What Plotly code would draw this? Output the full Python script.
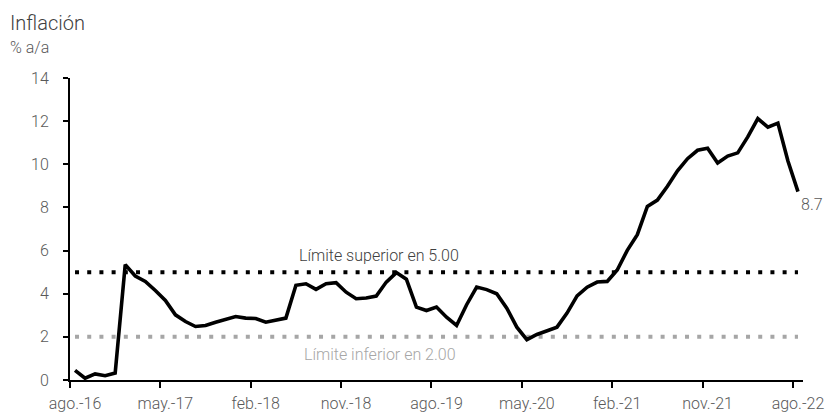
import plotly.graph_objects as go

# ---- data ----
month_abbr = ["ene.", "feb.", "mar.", "abr.", "may.", "jun.", "jul.", "ago.", "sep.", "oct.", "nov.", "dic."]
months = []
for k in range(73):
    m = (7 + k) % 12
    yr = 16 + (7 + k) // 12
    months.append(f"{month_abbr[m]}-{yr}")

inflation = [
    0.45, 0.08, 0.28, 0.20, 0.32, 5.35, 4.82, 4.57, 4.15, 3.69,
    3.02, 2.71, 2.48, 2.53, 2.68, 2.80, 2.94, 2.87, 2.85, 2.68,
    2.76, 2.87, 4.39, 4.46, 4.20, 4.46, 4.51, 4.07, 3.77, 3.80,
    3.89, 4.54, 4.98, 4.67, 3.38, 3.22, 3.38, 2.91, 2.53, 3.49,
    4.31, 4.19, 4.00, 3.33, 2.45, 1.87, 2.11, 2.29, 2.45, 3.10,
    3.90, 4.30, 4.54, 4.57, 5.10, 6.01, 6.74, 8.05, 8.34, 8.98,
    9.70, 10.26, 10.65, 10.74, 10.06, 10.38, 10.53, 11.27, 12.12, 11.72,
    11.91, 10.15, 8.73,
]
upper_limit = [5.0] * 73
lower_limit = [2.0] * 73

tick_labels = ["ago.-16", "may.-17", "feb.-18", "nov.-18", "ago.-19",
               "may.-20", "feb.-21", "nov.-21", "ago.-22"]
y_ticks = [0, 2, 4, 6, 8, 10, 12, 14]

upper_text = "Límite superior en 5.00"
lower_text = "Límite inferior en 2.00"
title_text = "Inflación"
unit_text = "% a/a"

# ---- figure ----
x = list(range(len(months)))
tick_idx = [months.index(t) for t in tick_labels]
tick_pos = [i - 0.5 for i in tick_idx]

FONT = "Roboto, Liberation Sans, sans-serif"
GRAY = "#595959"

fig = go.Figure()
fig.add_trace(go.Scatter(x=x, y=lower_limit, mode="lines",
                         line=dict(color="#A6A6A6", width=4, dash="4px,8.2px"),
                         hoverinfo="skip"))
fig.add_trace(go.Scatter(x=x, y=upper_limit, mode="lines",
                         line=dict(color="#000000", width=4, dash="4px,8.2px"),
                         hoverinfo="skip"))
fig.add_trace(go.Scatter(x=x, y=inflation, mode="lines", text=months,
                         line=dict(color="#000000", width=3.6)))

fig.update_layout(
    width=830, height=419,
    margin=dict(l=70, r=27, t=78, b=39),
    paper_bgcolor="white", plot_bgcolor="white",
    showlegend=False,
    font=dict(family=FONT, size=16, color=GRAY, weight=300),
    xaxis=dict(range=[-0.5, 72.5], tickmode="array", tickvals=tick_pos,
               ticktext=tick_labels, ticks="outside", ticklen=6, tickwidth=2,
               tickcolor="black", showline=True, linecolor="black", linewidth=2,
               showgrid=False, zeroline=False, ticklabelshift=5, automargin=False,
               ticklabelstandoff=2,
               tickfont=dict(family=FONT, size=16, color=GRAY, weight=300)),
    yaxis=dict(range=[0, 14], tickmode="array", tickvals=y_ticks,
               ticks="outside", ticklen=5, tickwidth=2, tickcolor="black",
               showline=True, linecolor="black", linewidth=2, automargin=False,
               showgrid=False, zeroline=False, ticklabelstandoff=11,
               tickfont=dict(family=FONT, size=16, color=GRAY, weight=300)),
)

fig.add_annotation(x=30.3, y=5.0, xref="x", yref="y", text=upper_text,
                   showarrow=False, yshift=17, xanchor="center", yanchor="middle",
                   font=dict(family=FONT, size=16, color="#404040", weight=300))
fig.add_annotation(x=30.4, y=2.0, xref="x", yref="y", text=lower_text,
                   showarrow=False, yshift=-18, xanchor="center", yanchor="middle",
                   font=dict(family=FONT, size=16, color="#A6A6A6", weight=300))
fig.add_annotation(x=x[-1], y=inflation[-1], xref="x", yref="y",
                   text=f"{inflation[-1]:.1f}", showarrow=False,
                   xanchor="left", yanchor="middle", xshift=1, yshift=-13,
                   font=dict(family=FONT, size=16, color=GRAY, weight=300))
fig.add_annotation(x=-0.0846, y=1.183, xref="paper", yref="paper", text=title_text,
                   showarrow=False, xanchor="left", yanchor="middle",
                   font=dict(family=FONT, size=20, color="#404040", weight=300))
fig.add_annotation(x=-0.0846, y=1.10, xref="paper", yref="paper", text=unit_text,
                   showarrow=False, xanchor="left", yanchor="middle",
                   font=dict(family=FONT, size=16, color=GRAY, weight=300))

fig.write_html("out.html", config={"displayModeBar": False},
               post_script="document.body.style.margin='0';")
